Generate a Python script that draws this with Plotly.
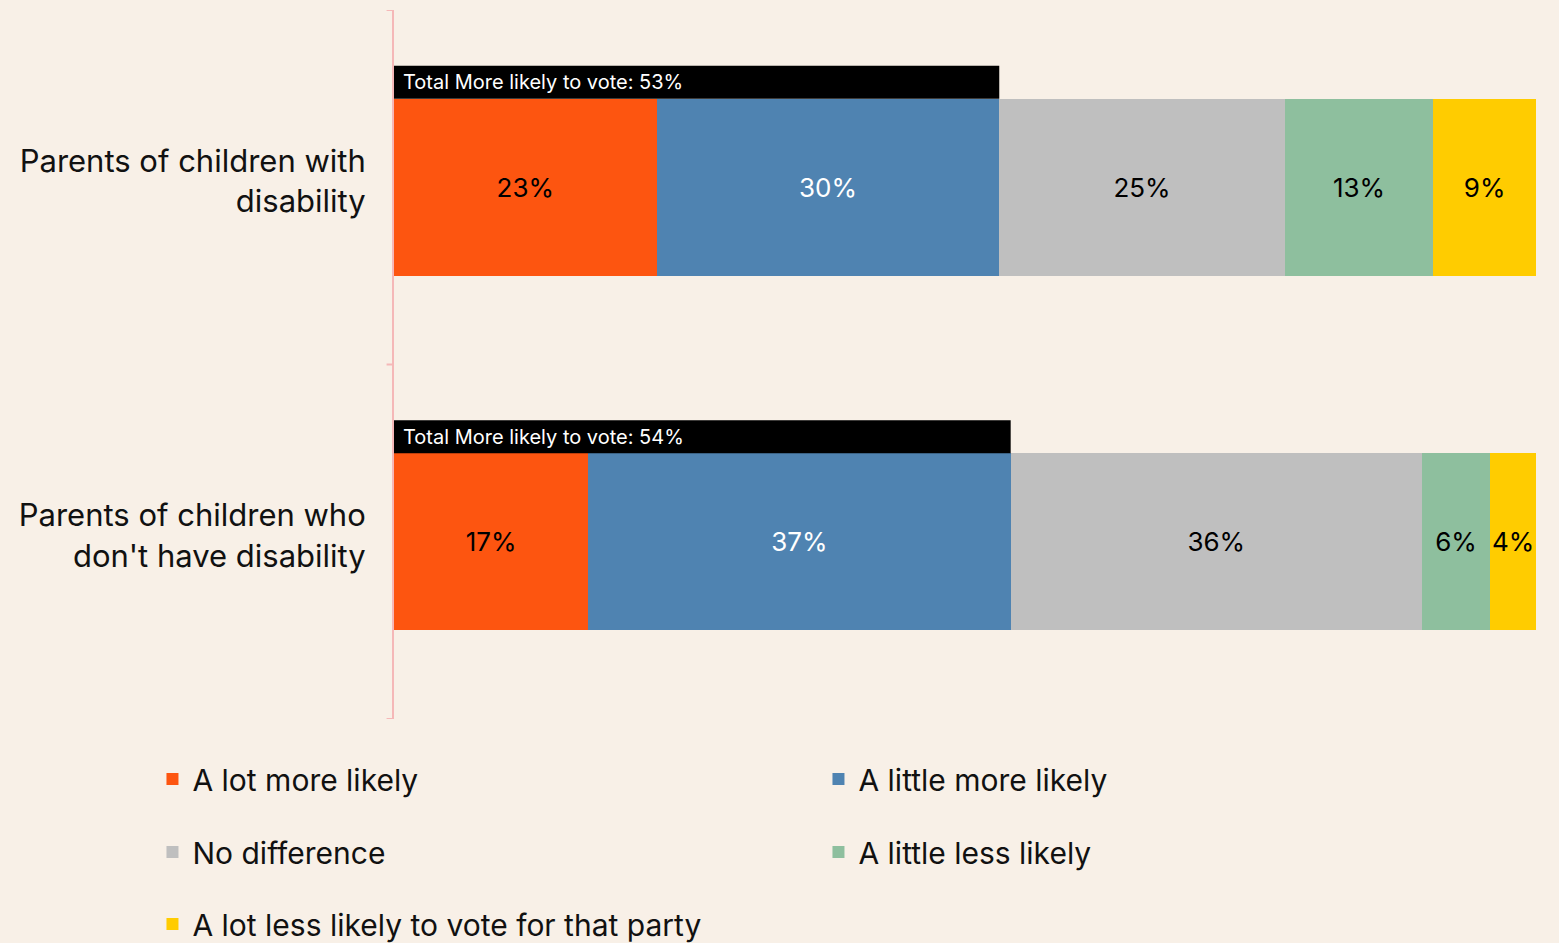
import plotly.graph_objects as go

# Survey groups and response shares (%)
groups = ["Parents of children with<br>disability",
          "Parents of children who<br>don't have disability"]
responses = ["A lot more likely", "A little more likely", "No difference",
             "A little less likely", "A lot less likely to vote for that party"]
a_lot_more = [23, 17]
a_little_more = [30, 37]
no_difference = [25, 36]
a_little_less = [13, 6]
a_lot_less = [9, 4]

series = [a_lot_more, a_little_more, no_difference, a_little_less, a_lot_less]
colors = ["#FD5510", "#4F83B1", "#BFBFBF", "#8EBF9E", "#FFCC00"]
text_colors = ["#000000", "#FFFFFF", "#000000", "#000000", "#000000"]
legend_ids = ["legend", "legend", "legend2", "legend2", "legend3"]

FONT = "Inter, 'Noto Sans', sans-serif"
BG = "#F8F0E7"
AXIS_PINK = "#F5B8B8"

fig = go.Figure()
for name, vals, col, tcol, lg in zip(responses, series, colors, text_colors, legend_ids):
    fig.add_trace(go.Bar(
        y=list(range(len(groups))), x=vals, name=name, orientation="h",
        marker=dict(color=col, line=dict(width=0)),
        text=[f"{v}%" for v in vals], textposition="inside",
        insidetextanchor="middle", constraintext="none", textangle=0,
        textfont=dict(family=FONT, size=26, color=tcol),
        legend=lg, hoverinfo="skip",
    ))

# "Total more likely" banners above each bar
bar_half = 0.25
banner_h = 0.093
for i in range(len(groups)):
    total = a_lot_more[i] + a_little_more[i]
    fig.add_shape(type="rect", xref="x", yref="y",
                  x0=0, x1=total, y0=i - bar_half - banner_h, y1=i - bar_half,
                  fillcolor="#000000", line=dict(width=0), layer="above")
    fig.add_annotation(x=0, y=i - bar_half - banner_h / 2, xref="x", yref="y",
                       text=f"Total More likely to vote: {total}%",
                       showarrow=False, xanchor="left", yanchor="middle", xshift=7,
                       font=dict(family=FONT, size=20, color="#FFFFFF"))

legend_common = dict(orientation="h", xref="paper", yref="paper",
                     x=-0.2115, xanchor="left", yanchor="middle",
                     font=dict(family=FONT, size=30, color="#111111"),
                     bgcolor="rgba(0,0,0,0)", entrywidth=621, entrywidthmode="pixels",
                     traceorder="normal", itemclick=False, itemdoubleclick=False)

fig.update_layout(
    barmode="stack", bargap=0.5,
    width=1559, height=943,
    margin=dict(l=394, r=23, t=10, b=224, autoexpand=False),
    paper_bgcolor=BG, plot_bgcolor=BG,
    font=dict(family=FONT, color="#111111"),
    xaxis=dict(range=[0, 100], visible=False, fixedrange=True),
    yaxis=dict(
        range=[1.5, -0.5], tickmode="array",
        tickvals=list(range(len(groups))), ticktext=groups,
        showgrid=False, zeroline=False, showline=True,
        linecolor=AXIS_PINK, linewidth=2,
        ticks="", tickfont=dict(family=FONT, size=31, color="#111111"),
        ticklabelstandoff=20, ticklabelshift=6, fixedrange=True,
    ),
    legend=dict(y=-0.0846, **legend_common),
    legend2=dict(y=-0.1876, **legend_common),
    legend3=dict(y=-0.2891, **legend_common),
)

# Boundary tick marks on the category axis
for b in [-0.5, 0.5, 1.5]:
    fig.add_shape(type="line", xref="paper", yref="y", x0=-0.0065, x1=0,
                  y0=b, y1=b, line=dict(color=AXIS_PINK, width=2))

fig.write_html("out.html")
